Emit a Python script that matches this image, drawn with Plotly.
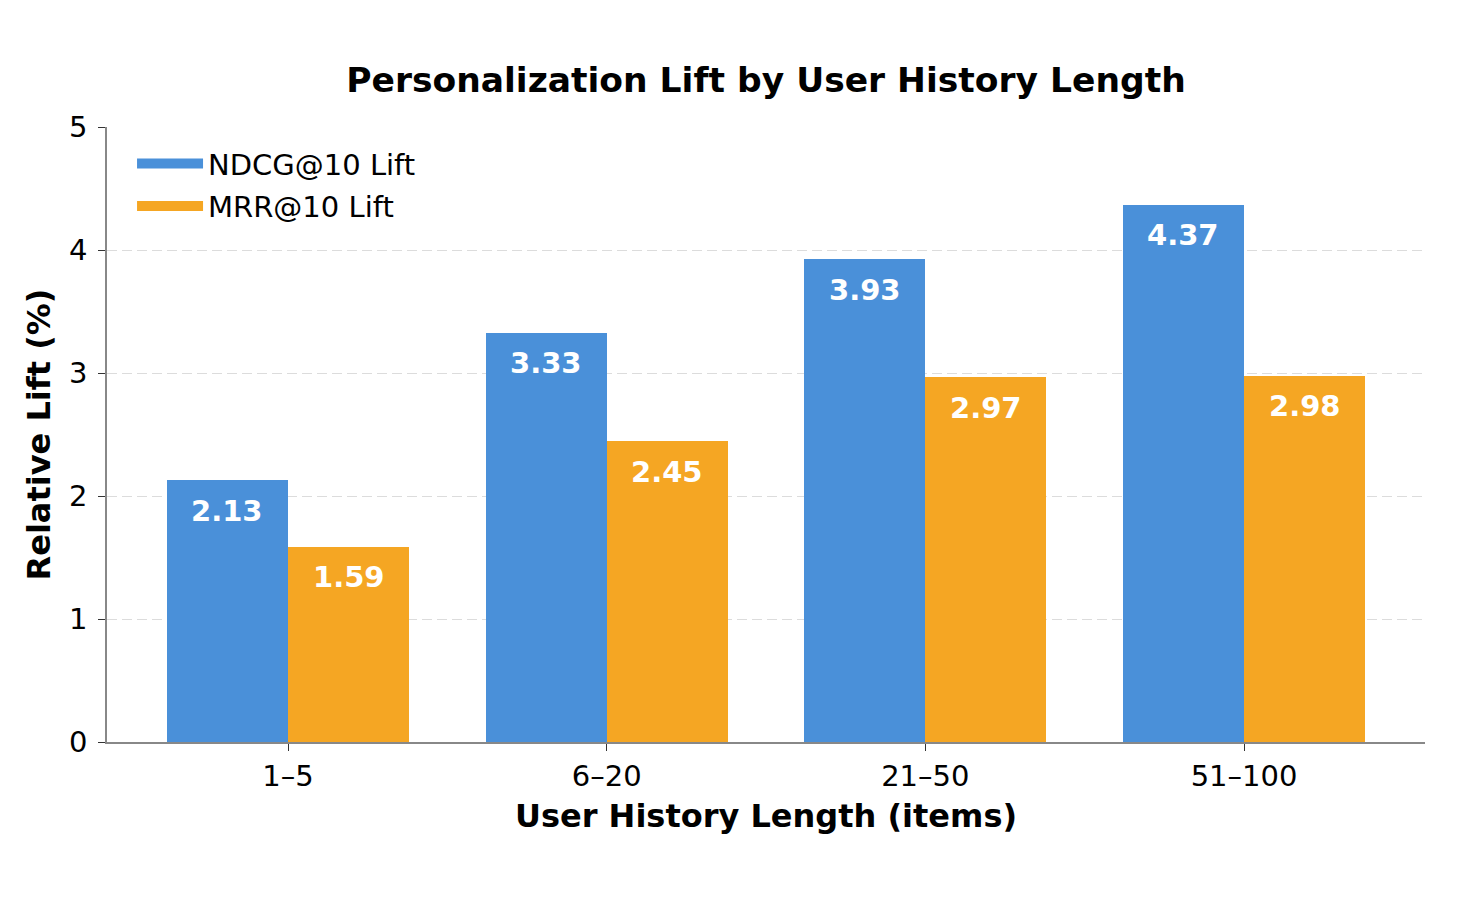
import plotly.graph_objects as go

categories = ["1–5", "6–20", "21–50", "51–100"]
ndcg_lift = [2.13, 3.33, 3.93, 4.37]
mrr_lift = [1.59, 2.45, 2.97, 2.98]
series_names = ["NDCG@10 Lift", "MRR@10 Lift"]
colors = ["#4A90D9", "#F5A623"]

W = 0.38
idx = list(range(len(categories)))
FONT = "DejaVu Sans"

fig = go.Figure()
fig.add_trace(go.Bar(x=idx, y=ndcg_lift, offset=-W, width=W, name=series_names[0],
                     marker=dict(color=colors[0], line=dict(width=0)), showlegend=False))
fig.add_trace(go.Bar(x=idx, y=mrr_lift, offset=0, width=W, name=series_names[1],
                     marker=dict(color=colors[1], line=dict(width=0)), showlegend=False))
# legend proxies (wide rectangular patches like the reference)
for name, c, g in zip(series_names, colors, ["a", "b"]):
    fig.add_trace(go.Scatter(x=[None], y=[None], mode="lines", name=name,
                             line=dict(color=c, width=20), legendgroup=g, hoverinfo="skip"))

annotations = []
for i, v in enumerate(ndcg_lift):
    annotations.append(dict(x=i - W / 2, y=v - 0.25, text=f"<b>{v:.2f}</b>", showarrow=False,
                            font=dict(family=FONT, size=29, color="white"), xanchor="center", yanchor="middle"))
for i, v in enumerate(mrr_lift):
    annotations.append(dict(x=i + W / 2, y=v - 0.25, text=f"<b>{v:.2f}</b>", showarrow=False,
                            font=dict(family=FONT, size=29, color="white"), xanchor="center", yanchor="middle"))

fig.update_layout(
    width=1458, height=912,
    margin=dict(l=107, r=33, t=127, b=170),
    paper_bgcolor="white", plot_bgcolor="white",
    font=dict(family=FONT, size=29, color="black"),
    title=dict(text="<b>Personalization Lift by User History Length</b>",
               font=dict(family=FONT, size=34.5, color="black"),
               x=0.5, xref="paper", xanchor="center",
               y=1 - 80 / 912, yref="container", yanchor="middle"),
    showlegend=True,
    legend=dict(x=0.019, y=0.982, xanchor="left", yanchor="top", bgcolor="rgba(255,255,255,0)",
                font=dict(family=FONT, size=29, color="black"), tracegroupgap=2,
                itemwidth=66),
    annotations=annotations,
    bargap=0,
)

fig.update_xaxes(
    range=[-0.568, 3.568], tickmode="array", tickvals=idx, ticktext=categories,
    showgrid=False, zeroline=False,
    showline=True, linecolor="#888888", linewidth=1.5,
    ticks="outside", ticklen=7, tickcolor="#333333", tickwidth=1.2,
    ticklabelstandoff=0,
    tickfont=dict(family=FONT, size=29, color="black"),
    title=dict(text="<b>User History Length (items)</b>", font=dict(family=FONT, size=32, color="black"), standoff=13),
)
fig.update_yaxes(
    range=[0, 5.002], tickmode="array", tickvals=[0, 1, 2, 3, 4, 5],
    showgrid=True, gridcolor="#dcdcdc", griddash="10px,5px", gridwidth=1.2,
    zeroline=False,
    showline=True, linecolor="#888888", linewidth=1.5,
    ticks="outside", ticklen=7, tickcolor="#333333", tickwidth=1.2,
    ticklabelstandoff=5,
    tickfont=dict(family=FONT, size=29, color="black"),
    title=dict(text="<b>Relative Lift (%)</b>", font=dict(family=FONT, size=32, color="black"), standoff=9),
)

fig.write_html("out.html")
